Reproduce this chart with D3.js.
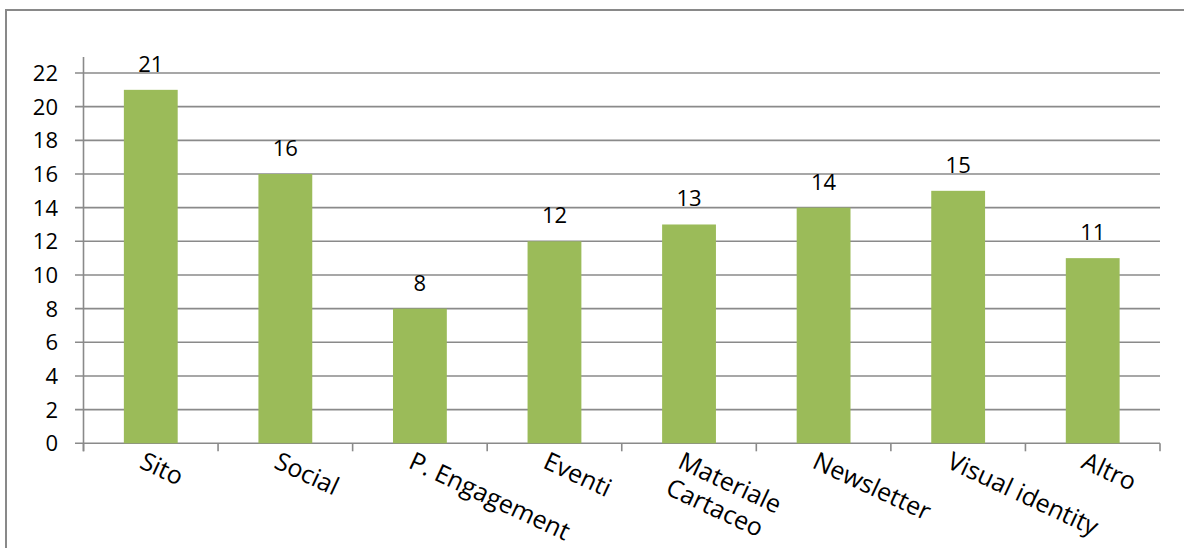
<!DOCTYPE html>
<html>
<head>
<meta charset="utf-8">
<script src="https://cdn.jsdelivr.net/npm/d3@7"></script>
<style>
  html, body { margin: 0; padding: 0; background: #fff; }
  svg { display: block; }
  text { font-family: "Open Sans", "DejaVu Sans", sans-serif; fill: #000; }
</style>
</head>
<body>
<script>
const categories = ["Sito", "Social", "P. Engagement", "Eventi", "Materiale\nCartaceo", "Newsletter", "Visual identity", "Altro"];
const values = [21, 16, 8, 12, 13, 14, 15, 11];
const yTicks = [0, 2, 4, 6, 8, 10, 12, 14, 16, 18, 20, 22];

const W = 1184, H = 548;
const svg = d3.select("body").append("svg").attr("width", W).attr("height", H);

// outer border (extends past the right and bottom edges)
svg.append("rect")
  .attr("x", 6).attr("y", 10)
  .attr("width", W + 10).attr("height", H + 10)
  .attr("fill", "none").attr("stroke", "#898989").attr("stroke-width", 2);

const x = d3.scaleBand().domain(categories).range([83.5, 1160]).paddingInner(0).paddingOuter(0);
const y = d3.scaleLinear().domain([0, 22]).range([443.3, 73]);
const gridColor = "#8a8a8a";

// gridlines
svg.append("g").selectAll("line").data(yTicks).join("line")
  .attr("x1", 75).attr("x2", 1160)
  .attr("y1", d => y(d)).attr("y2", d => y(d))
  .attr("stroke", gridColor).attr("stroke-width", 1.6);

// y axis line
svg.append("line")
  .attr("x1", 83.5).attr("x2", 83.5)
  .attr("y1", y(22) - 16).attr("y2", y(0) + 8)
  .attr("stroke", gridColor).attr("stroke-width", 1.6);

// x axis category ticks
const tickXs = categories.map(c => x(c)).concat([x.range()[1]]);
svg.append("g").selectAll("line").data(tickXs).join("line")
  .attr("x1", d => d).attr("x2", d => d)
  .attr("y1", y(0)).attr("y2", y(0) + 8)
  .attr("stroke", gridColor).attr("stroke-width", 1.6);

// y tick labels
svg.append("g").selectAll("text").data(yTicks).join("text")
  .attr("x", 58).attr("y", d => y(d))
  .attr("dy", "0.36em")
  .attr("text-anchor", "end")
  .attr("font-size", 22)
  .text(d => d);

// bars
const bw = x.bandwidth() * 0.4;
svg.append("g").selectAll("rect").data(values).join("rect")
  .attr("x", (d, i) => x(categories[i]) + x.bandwidth() / 2 - bw / 2)
  .attr("width", bw)
  .attr("y", d => y(d))
  .attr("height", d => y(0) - y(d))
  .attr("fill", "#9BBB59");

// data labels
svg.append("g").selectAll("text").data(values).join("text")
  .attr("x", (d, i) => x(categories[i]) + x.bandwidth() / 2)
  .attr("y", d => y(d) - 18)
  .attr("text-anchor", "middle")
  .attr("font-size", 22)
  .text(d => d);

// x category labels (rotated)
const xl = svg.append("g").selectAll("text").data(categories).join("text")
  .attr("font-size", 25)
  .attr("transform", c => `translate(${x(c) + x.bandwidth() / 2 - 5},${451}) rotate(25)`);
xl.each(function (c) {
  const lines = c.split("\n");
  d3.select(this).selectAll("tspan").data(lines).join("tspan")
    .attr("x", (d, i) => 0)
    .attr("y", (d, i) => 18 + i * 29)
    .text(d => d);
});
</script>
</body>
</html>
